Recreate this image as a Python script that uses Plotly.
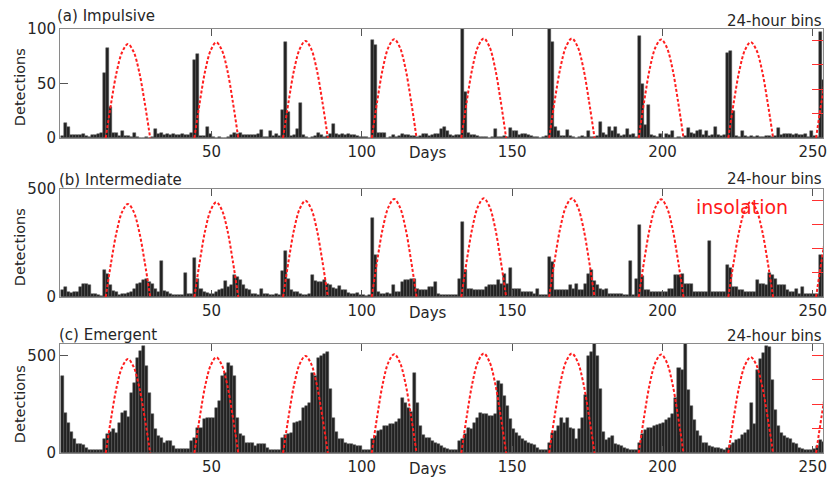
import plotly.graph_objects as go

# ---------------- data ----------------
days = [i + 0.5 for i in range(254)]

impulsive = [
    2, 14, 10, 3, 3, 3, 3, 4, 2, 1,
    3, 3, 4, 5, 60, 83, 28, 5, 5, 2,
    6, 2, 2, 1, 5, 1, 0, 0, 1, 0,
    1, 8, 4, 5, 3, 4, 3, 4, 3, 3,
    4, 3, 3, 5, 72, 77, 2, 2, 10, 4,
    1, 0, 1, 0, 0, 1, 3, 5, 4, 5,
    3, 3, 3, 3, 3, 4, 7, 1, 1, 6,
    2, 4, 2, 26, 88, 24, 2, 3, 8, 32,
    3, 1, 0, 1, 2, 5, 3, 1, 2, 4,
    13, 4, 3, 4, 3, 4, 3, 3, 2, 1,
    1, 1, 0, 90, 85, 5, 5, 5, 0, 1,
    3, 1, 2, 4, 3, 3, 2, 2, 1, 2,
    4, 4, 2, 3, 4, 4, 8, 10, 6, 3,
    2, 3, 3, 100, 42, 5, 3, 3, 2, 1,
    1, 1, 0, 1, 8, 1, 1, 2, 1, 9,
    6, 6, 3, 4, 4, 3, 2, 1, 1, 0,
    1, 2, 100, 88, 10, 6, 2, 2, 7, 2,
    1, 0, 1, 2, 1, 6, 1, 1, 2, 15,
    5, 3, 10, 6, 10, 4, 2, 3, 8, 3,
    4, 1, 94, 50, 12, 30, 3, 2, 1, 4,
    0, 4, 3, 6, 0, 1, 0, 2, 9, 5,
    4, 6, 7, 3, 6, 2, 3, 10, 3, 2,
    3, 78, 80, 25, 2, 1, 6, 2, 1, 2,
    1, 2, 1, 1, 2, 2, 1, 2, 9, 3,
    4, 4, 4, 3, 4, 3, 3, 4, 1, 6,
    2, 1, 97, 53,
]

intermediate = [
    31, 46, 23, 20, 23, 23, 46, 59, 59, 55,
    15, 15, 8, 3, 125, 105, 54, 26, 23, 8,
    15, 15, 19, 23, 39, 59, 65, 77, 85, 70,
    59, 39, 23, 165, 26, 23, 15, 8, 11, 8,
    8, 113, 15, 12, 181, 85, 39, 23, 20, 15,
    15, 23, 31, 39, 73, 46, 54, 100, 93, 77,
    54, 39, 31, 15, 15, 8, 39, 15, 15, 8,
    8, 15, 8, 119, 214, 85, 31, 23, 23, 15,
    11, 11, 15, 100, 75, 70, 70, 77, 60, 54,
    40, 39, 50, 31, 31, 20, 15, 15, 20, 8,
    8, 6, 8, 364, 193, 23, 15, 15, 18, 15,
    54, 23, 25, 70, 77, 80, 85, 85, 39, 31,
    31, 31, 46, 46, 70, 15, 8, 8, 8, 8,
    8, 8, 85, 345, 124, 39, 39, 31, 31, 31,
    31, 46, 54, 54, 54, 77, 62, 108, 62, 136,
    39, 39, 39, 23, 23, 23, 23, 15, 39, 8,
    8, 8, 186, 162, 31, 31, 31, 31, 31, 54,
    39, 62, 31, 31, 62, 105, 124, 75, 54, 39,
    31, 39, 15, 15, 15, 15, 15, 8, 8, 168,
    8, 85, 333, 95, 31, 31, 23, 23, 23, 23,
    23, 23, 39, 39, 104, 100, 108, 60, 62, 62,
    23, 23, 23, 23, 23, 258, 23, 23, 23, 23,
    23, 148, 135, 46, 46, 31, 31, 23, 23, 23,
    23, 77, 62, 62, 54, 113, 100, 85, 54, 54,
    54, 31, 23, 23, 39, 15, 46, 15, 15, 15,
    15, 15, 193, 190,
]

emergent = [
    396, 205, 155, 108, 70, 48, 45, 40, 27, 15,
    15, 14, 14, 14, 70, 96, 108, 122, 104, 156,
    207, 216, 187, 310, 361, 490, 524, 550, 447, 310,
    199, 122, 87, 79, 53, 62, 62, 36, 19, 19,
    19, 19, 19, 62, 79, 130, 130, 173, 182, 182,
    182, 233, 267, 396, 413, 464, 447, 396, 182, 100,
    87, 53, 53, 53, 36, 45, 45, 45, 27, 15,
    15, 15, 15, 79, 90, 100, 104, 156, 160, 164,
    233, 242, 259, 413, 396, 490, 498, 507, 519, 327,
    182, 110, 70, 70, 53, 45, 45, 40, 36, 36,
    15, 15, 15, 70, 87, 113, 120, 139, 139, 147,
    147, 160, 173, 284, 259, 233, 210, 413, 257, 139,
    94, 79, 77, 60, 51, 45, 35, 26, 20, 15,
    14, 14, 60, 70, 96, 130, 122, 156, 180, 207,
    199, 199, 190, 190, 199, 370, 353, 293, 242, 173,
    122, 104, 86, 70, 60, 53, 45, 43, 27, 15,
    14, 14, 53, 103, 111, 137, 180, 154, 182, 130,
    122, 70, 122, 182, 300, 500, 520, 575, 500, 330,
    110, 68, 79, 86, 45, 40, 36, 26, 19, 15,
    15, 14, 53, 96, 120, 128, 130, 139, 146, 150,
    156, 171, 180, 199, 284, 438, 428, 575, 325, 240,
    171, 113, 86, 53, 51, 34, 30, 27, 27, 20,
    15, 26, 40, 53, 68, 70, 94, 103, 120, 257,
    150, 428, 481, 516, 550, 545, 377, 223, 137, 103,
    87, 77, 70, 51, 45, 26, 19, 17, 15, 15,
    19, 34, 68, 55,
]

# insolation arches (sunrise / sunset day, peak value)
sunrise = [14.8, 44.3, 73.8, 103.3, 133.1, 162.3, 192.1, 221.9, 251.1]
sunset = [29.6, 58.9, 88.7, 118.2, 148.0, 177.4, 207.0, 236.8, 265.9]
peak = [1155, 1176, 1194, 1215, 1224, 1224, 1212, 1179, 1200]
arch_frac = [0, 0.125, 0.25, 0.375, 0.5, 0.625, 0.75, 0.875, 1.0]
arch_shape = [0, 0.38, 0.71, 0.92, 1.0, 0.92, 0.71, 0.38, 0]

x_ticks = [50, 100, 150, 200, 250]

ins_x, ins_y = [], []
for r, s, p in zip(sunrise, sunset, peak):
    for f, a in zip(arch_frac, arch_shape):
        ins_x.append(r + f * (s - r))
        ins_y.append(p * a)
    ins_x.append(None)
    ins_y.append(None)

# ---------------- figure ----------------
W, H = 834, 483
ML, MR, MT, MB = 60, 7, 29, 30
PW, PH = W - ML - MR, H - MT - MB


def px(x):
    return (x - ML) / PW


def py(y):
    return (H - MB - y) / PH


FONT = "DejaVu Sans"
TXT = "#262626"
AXC = "#8a8a8a"

fig = go.Figure()
panels = [
    ("", "y", "y4", impulsive),
    ("2", "y2", "y5", intermediate),
    ("3", "y3", "y6", emergent),
]
for sfx, yl, yr, vals in panels:
    fig.add_trace(go.Bar(
        x=days, y=vals, xaxis="x" + sfx, yaxis=yl, width=1.0,
        marker=dict(color="#222222", line=dict(color="#5a5a5a", width=0.5)),
        showlegend=False, hoverinfo="skip"))
    fig.add_trace(go.Scatter(
        x=ins_x, y=ins_y, xaxis="x" + sfx, yaxis=yr, mode="lines",
        line=dict(color="#ff1f1f", width=2, dash="3px,2px", shape="spline"),
        connectgaps=False, showlegend=False, hoverinfo="skip"))

domains = [(py(138), py(29)), (py(297), py(189)), (0.0, py(344))]
yranges = [[0, 100], [0, 500], [0, 560]]
yticks = [[0, 50, 100], [0, 500], [0, 500]]

layout = dict(
    width=W, height=H,
    margin=dict(l=ML, r=MR, t=MT, b=MB, pad=0),
    paper_bgcolor="white", plot_bgcolor="white",
    bargap=0, barmode="overlay",
    font=dict(family=FONT, size=15, color=TXT),
)

for k in range(3):
    sx = "" if k == 0 else str(k + 1)
    ysx = "" if k == 0 else str(k + 1)
    layout["xaxis" + sx] = dict(
        domain=[0, 1], anchor="y" + ysx, range=[-0.4, 253.4],
        tickvals=x_ticks, ticks="inside", ticklen=7, tickcolor="#555",
        showline=True, linecolor=AXC, linewidth=1, mirror="ticks",
        showgrid=False, zeroline=False,
        tickfont=dict(family=FONT, size=15, color=TXT))
    layout["yaxis" + ysx] = dict(
        domain=list(domains[k]), anchor="x" + sx, range=yranges[k],
        tickvals=yticks[k], ticks="inside", ticklen=8, tickcolor="#555",
        showline=True, linecolor=AXC, linewidth=1, mirror=True,
        showgrid=False, zeroline=False,
        tickfont=dict(family=FONT, size=15, color=TXT))
    layout["yaxis" + str(k + 4)] = dict(
        overlaying="y" + ysx, anchor="x" + sx, side="right",
        range=[0, 1340], tickvals=[300, 600, 900, 1200],
        ticks="inside", ticklen=11, tickcolor="#ff3030", tickwidth=1,
        showticklabels=False, showline=False, showgrid=False, zeroline=False)

ann = []


def text(t, x, y, xa="center", size=15, color=TXT, angle=0):
    ann.append(dict(text=t, x=px(x), y=py(y), xref="paper", yref="paper",
                    xanchor=xa, yanchor="middle", showarrow=False,
                    textangle=angle,
                    font=dict(family=FONT, size=size, color=color)))


text("(a) Impulsive", 55, 16, "left")
text("(b) Intermediate", 57, 180, "left")
text("(c) Emergent", 57, 335, "left")
for yy in (21, 179, 336):
    text("24-hour bins", 828, yy, "right")
for yy in (153, 313, 469):
    text("Days", 430, yy)
for yy in (87, 247, 404):
    text("Detections", 20, yy, angle=-90, size=14.5)
text("insolation", 746, 207, size=19, color="#ff1a1a")

layout["annotations"] = ann
fig.update_layout(**layout)
fig.write_html("out.html")
